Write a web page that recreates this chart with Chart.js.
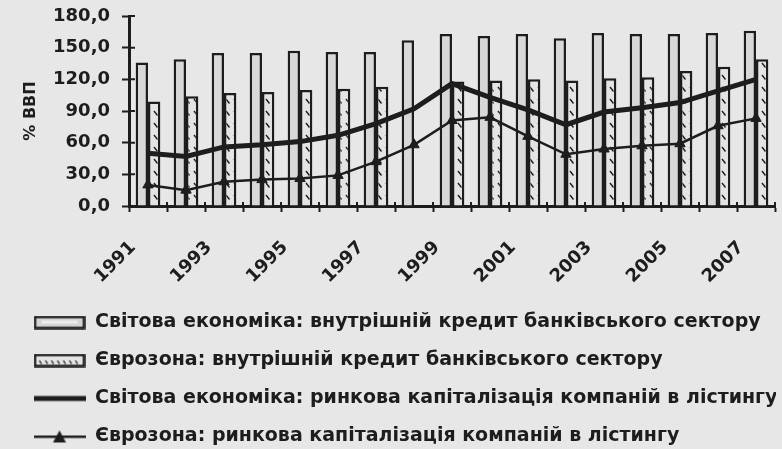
<!DOCTYPE html>
<html>
<head>
<meta charset="utf-8">
<script src="https://cdn.jsdelivr.net/npm/chart.js@4/dist/chart.umd.min.js"></script>
<style>
  html, body { margin: 0; padding: 0; background: #e7e7e7; }
  canvas { display: block; }
</style>
</head>
<body>
<canvas id="chart" width="782" height="449"></canvas>
<script>
// Years on the category axis
const years = ['1991', '1992', '1993', '1994', '1995', '1996', '1997', '1998', '1999',
               '2000', '2001', '2002', '2003', '2004', '2005', '2006', '2007'];

// Domestic credit provided by the banking sector, % of GDP
const worldBankCredit = [136, 139, 145, 145, 147, 146, 146, 157, 163, 161, 163, 159, 164, 163, 163, 164, 166];
const euroBankCredit  = [99, 104, 107, 108, 110, 111, 113, null, 118, 119, 120, 119, 121, 122, 128, 132, 139];

// Market capitalization of listed companies, % of GDP
const worldMarketCap = [50, 47, 56, 58, 61, 67, 78, 92, 116, 103, 91, 77, 89, 93, 98, 109, 120];
const euroMarketCap  = [20, 15, 23, 25, 26, 29, 42, 58, 81, 84, 66, 49, 54, 57, 59, 76, 83];

// Value axis
const yMin = 0, yMax = 180, yStep = 30;
const yTitle = '% ВВП';

const seriesNames = [
  'Світова економіка: внутрішній кредит банківського сектору',
  'Єврозона: внутрішній кредит банківського сектору',
  'Світова економіка: ринкова капіталізація компаній в лістингу',
  'Єврозона: ринкова капіталізація компаній в лістингу'
];

const ink = '#1d1d1d';
const fontFamily = '"DejaVu Sans", Verdana, sans-serif';

function makeCanvas(w, h, draw) {
  const c = document.createElement('canvas');
  c.width = w; c.height = h;
  draw(c.getContext('2d'));
  return c;
}

// Small diagonal dashes used as the fill of the euro-area credit bars
const hatchTile = makeCanvas(8, 12, g => {
  g.fillStyle = '#e4e4e4';
  g.fillRect(0, 0, 8, 12);
  g.strokeStyle = ink;
  g.lineWidth = 1.4;
  g.beginPath();
  g.moveTo(2, 3); g.lineTo(5.5, 7.5);
  g.stroke();
});

const canvas = document.getElementById('chart');
const ctx = canvas.getContext('2d');
const hatchPattern = ctx.createPattern(hatchTile, 'repeat');

// Legend symbols
const iconW = 52;
const legendIcons = [
  makeCanvas(iconW, 14, g => {
    g.fillStyle = '#d4d4d4'; g.fillRect(2, 2, iconW - 4, 10);
    g.fillStyle = '#ececec'; g.fillRect(8, 5, iconW - 16, 3);
    g.strokeStyle = ink; g.lineWidth = 2.5; g.strokeRect(1.5, 1.5, iconW - 3, 11);
  }),
  makeCanvas(iconW, 14, g => {
    g.fillStyle = '#e4e4e4'; g.fillRect(2, 2, iconW - 4, 10);
    g.strokeStyle = ink; g.lineWidth = 1.3;
    for (let x = 6; x < iconW - 5; x += 6) {
      g.beginPath(); g.moveTo(x, 7); g.lineTo(x + 2, 10.5); g.stroke();
    }
    g.lineWidth = 2.5; g.strokeRect(1.5, 1.5, iconW - 3, 11);
  }),
  makeCanvas(iconW, 8, g => {
    g.fillStyle = ink; g.fillRect(0, 1.5, iconW, 5);
  }),
  makeCanvas(iconW, 14, g => {
    g.fillStyle = ink; g.fillRect(0, 6, iconW, 2.5);
    g.beginPath();
    g.moveTo(iconW / 2, 1); g.lineTo(iconW / 2 + 6.5, 13); g.lineTo(iconW / 2 - 6.5, 13);
    g.closePath(); g.fill();
  })
];

// Tick marks that cross the axes into the plot area
const crossTicks = {
  id: 'crossTicks',
  afterDraw(chart) {
    const { ctx: g, scales: { x, y } } = chart;
    g.save();
    g.strokeStyle = ink;
    g.lineWidth = 2;
    g.beginPath();
    y.ticks.forEach(t => {
      const py = y.getPixelForValue(t.value);
      g.moveTo(y.right, py); g.lineTo(y.right + 6, py);
    });
    const n = x.ticks.length;
    const w = (x.right - x.left) / n;
    for (let k = 1; k <= n; k++) {
      const px = x.left + k * w;
      g.moveTo(px, x.top); g.lineTo(px, x.top - 4);
    }
    g.stroke();
    g.restore();
  }
};

new Chart(ctx, {
  type: 'bar',
  data: {
    labels: years,
    datasets: [
      {
        type: 'bar', label: seriesNames[0], data: worldBankCredit,
        backgroundColor: '#d8d8d8', borderColor: ink, borderWidth: 2.5,
        categoryPercentage: 0.65, barPercentage: 1, order: 2
      },
      {
        type: 'bar', label: seriesNames[1], data: euroBankCredit,
        backgroundColor: hatchPattern, borderColor: ink, borderWidth: 2.5,
        categoryPercentage: 0.65, barPercentage: 1, order: 2
      },
      {
        type: 'line', label: seriesNames[2], data: worldMarketCap,
        borderColor: ink, borderWidth: 5, pointRadius: 0, tension: 0,
        fill: false, order: 1
      },
      {
        type: 'line', label: seriesNames[3], data: euroMarketCap,
        borderColor: ink, borderWidth: 2.5, tension: 0, fill: false,
        pointStyle: 'triangle', pointRadius: 6,
        pointBackgroundColor: ink, pointBorderColor: ink, pointBorderWidth: 1,
        order: 1
      }
    ]
  },
  options: {
    responsive: false,
    animation: false,
    devicePixelRatio: 1,
    layout: { padding: { left: 14.5, right: 6, top: 16, bottom: -7 } },
    plugins: {
      tooltip: { enabled: false },
      legend: {
        display: true,
        position: 'bottom',
        align: 'start',
        labels: {
          usePointStyle: true,
          pointStyleWidth: iconW,
          padding: 19,
          color: ink,
          font: { family: fontFamily, size: 19, weight: 'bold' },
          generateLabels(chart) {
            const items = Chart.defaults.plugins.legend.labels.generateLabels(chart);
            items.forEach(it => { it.pointStyle = legendIcons[it.datasetIndex]; });
            return items;
          },
          sort: (a, b) => a.datasetIndex - b.datasetIndex
        }
      }
    },
    scales: {
      x: {
        offset: true,
        grid: {
          display: true, drawOnChartArea: false, drawTicks: true, offset: true,
          tickLength: 6, tickWidth: 2, tickColor: ink
        },
        border: { display: true, color: ink, width: 3 },
        ticks: {
          autoSkip: false, minRotation: 45, maxRotation: 45,
          padding: 25, labelOffset: -15,
          color: ink,
          font: { family: fontFamily, size: 18, weight: 'bold' },
          callback: (v, i) => (i % 2 === 0 ? years[i] : '')
        },
        afterFit: s => { s.height = 88; s.paddingLeft = 0; s.paddingRight = 0; }
      },
      y: {
        min: yMin, max: yMax,
        grid: {
          display: true, drawOnChartArea: false, drawTicks: true,
          tickLength: 7, tickWidth: 2, tickColor: ink
        },
        border: { display: true, color: ink, width: 3 },
        ticks: {
          stepSize: yStep, padding: 12, color: ink,
          font: { family: fontFamily, size: 18, weight: 'bold' },
          callback: v => v.toFixed(1).replace('.', ',')
        },
        title: {
          display: true, text: yTitle, color: ink,
          font: { family: fontFamily, size: 16, weight: 'bold' },
          padding: { top: 7, bottom: 0 }
        },
        afterFit: s => { s.width = 114.5; s.paddingTop = 0; }
      }
    }
  },
  plugins: [crossTicks]
});
</script>
</body>
</html>
